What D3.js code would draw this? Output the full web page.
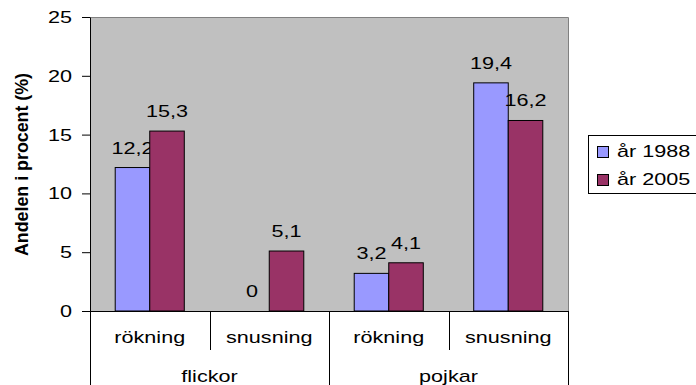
<!DOCTYPE html>
<html>
<head>
<meta charset="utf-8">
<script src="https://cdn.jsdelivr.net/npm/d3@7"></script>
<style>
  html, body { margin: 0; padding: 0; background: #fff; }
  svg { display: block; font-family: "Liberation Sans", Arial, sans-serif; }
</style>
</head>
<body>
<svg id="chart" width="696" height="385"></svg>
<script>
// Groups and sub-categories along the x axis
const groups = ["flickor", "pojkar"];
const subcats = ["rökning", "snusning"];
// Series: share in percent per (group, sub-category)
const seriesNames = ["år 1988", "år 2005"];
const values1988 = [12.2, 0, 3.2, 19.4];
const values2005 = [15.3, 5.1, 4.1, 16.2];
const yTicks = [0, 5, 10, 15, 20, 25];
const colors = ["#9999FF", "#993366"];

const svg = d3.select("#chart");
const plotLeft = 90, plotRight = 568, plotTop = 17, plotBottom = 311;
const FS = 17;        // label font size
const SX = 1.27;      // horizontal widening of the text

// Text helper: places a horizontally widened label at (x, y)
function label(parent, x, y, str, anchor, opts = {}) {
  return parent.append("text")
    .attr("transform", `translate(${x},${y}) scale(${SX},1)`)
    .attr("text-anchor", anchor || "middle")
    .attr("font-size", opts.size || FS)
    .attr("font-weight", opts.weight || "normal")
    .attr("fill", "#000")
    .text(str);
}

// Flat category list: group + sub-category
const cats = [];
groups.forEach(g => subcats.forEach(s => cats.push({ g, s })));

const x = d3.scaleBand().domain(d3.range(cats.length)).range([plotLeft, plotRight]).paddingInner(0).paddingOuter(0);
const y = d3.scaleLinear().domain([0, 25]).range([plotBottom, plotTop]);

// Plot background with grey frame on top and right
svg.append("rect")
  .attr("x", plotLeft).attr("y", plotTop)
  .attr("width", plotRight - plotLeft).attr("height", plotBottom - plotTop)
  .attr("fill", "#C0C0C0");
svg.append("path")
  .attr("d", `M${plotLeft},${plotTop + 0.5}H${plotRight + 0.5}V${plotBottom}`)
  .attr("fill", "none").attr("stroke", "#808080").attr("stroke-width", 1);

// Bars and value labels
const inner = d3.scaleBand().domain([0, 1]).range([0, x.bandwidth()]).paddingOuter(0.73).paddingInner(0);
const series = [values1988, values2005];
const fmt = d => d3.format(".1f")(d).replace(".", ",").replace(/,0$/, "");
series.forEach((vals, si) => {
  svg.append("g").selectAll("rect")
    .data(vals)
    .join("rect")
    .attr("x", (d, i) => x(i) + inner(si))
    .attr("y", d => y(d))
    .attr("width", inner.bandwidth())
    .attr("height", d => y(0) - y(d))
    .attr("fill", colors[si])
    .attr("stroke", "#000")
    .attr("stroke-width", 1)
    .attr("display", d => d === 0 ? "none" : null);

  const lblG = svg.append("g");
  vals.forEach((d, i) => {
    label(lblG, x(i) + inner(si) + inner.bandwidth() / 2, y(d) - 14, fmt(d), "middle");
  });
});

// Y axis: line and ticks from the scale, labels widened
const yAxis = d3.axisLeft(y).tickValues(yTicks).tickSize(8).tickSizeOuter(0).tickFormat("");
const ya = svg.append("g").attr("transform", `translate(${plotLeft},0)`).call(yAxis);
ya.selectAll("line, path").attr("stroke", "#000");
yTicks.forEach(t => label(svg, plotLeft - 18, y(t) + 6, String(t), "end"));

// Category table below the plot
const axisG = svg.append("g");
axisG.append("line").attr("x1", plotLeft).attr("x2", plotRight).attr("y1", plotBottom + 0.5).attr("y2", plotBottom + 0.5).attr("stroke", "#000");
cats.forEach((c, i) => {
  const x0 = x(i);
  const isGroupEdge = i % subcats.length === 0;
  axisG.append("line")
    .attr("x1", Math.round(x0) + 0.5).attr("x2", Math.round(x0) + 0.5)
    .attr("y1", plotBottom).attr("y2", isGroupEdge ? 385 : 350)
    .attr("stroke", "#000");
  label(axisG, x0 + x.bandwidth() / 2, 343, c.s, "middle");
});
axisG.append("line")
  .attr("x1", Math.round(plotRight) + 0.5).attr("x2", Math.round(plotRight) + 0.5)
  .attr("y1", plotBottom).attr("y2", 385).attr("stroke", "#000");
groups.forEach((g, gi) => {
  const x0 = x(gi * subcats.length);
  const x1 = x(gi * subcats.length + subcats.length - 1) + x.bandwidth();
  label(axisG, (x0 + x1) / 2, 382, g, "middle");
});

// Y axis title
svg.append("text")
  .attr("transform", `translate(28,164.5) scale(${SX},1) rotate(-90)`)
  .attr("text-anchor", "middle")
  .attr("textLength", 183)
  .attr("lengthAdjust", "spacingAndGlyphs")
  .attr("font-size", 15).attr("font-weight", "bold").attr("fill", "#000")
  .text("Andelen i procent (%)");

// Legend
const lg = svg.append("g");
lg.append("rect")
  .attr("x", 588.5).attr("y", 135.5).attr("width", 120).attr("height", 58)
  .attr("fill", "#fff").attr("stroke", "#000");
seriesNames.forEach((name, i) => {
  lg.append("rect")
    .attr("x", 597.5).attr("y", 146.5 + i * 28).attr("width", 11).attr("height", 11)
    .attr("fill", colors[i]).attr("stroke", "#000");
  label(lg, 617, 157 + i * 28, name, "start");
});
</script>
</body>
</html>
